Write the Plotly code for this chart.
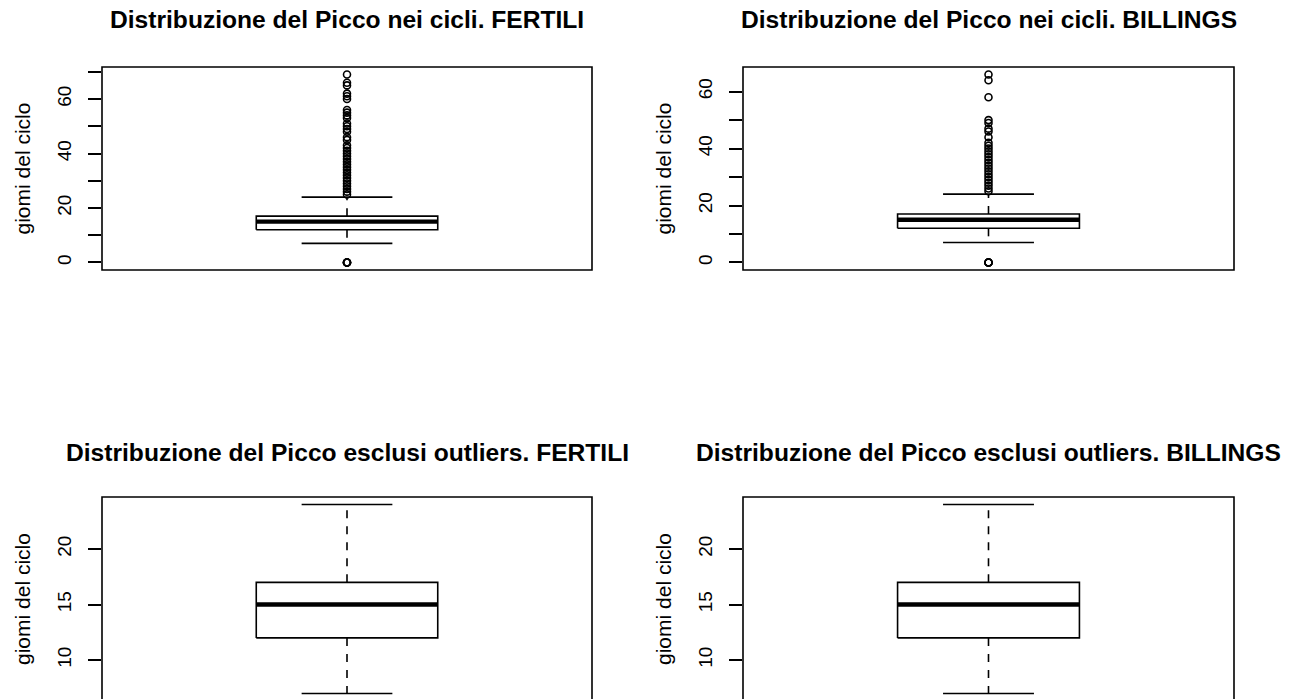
import plotly.graph_objects as go

# Summary statistics (days of the cycle) for each boxplot
q1_fertili, med_fertili, q3_fertili = 12, 15, 17
lo_fertili, hi_fertili = 7, 24
q1_billings, med_billings, q3_billings = 12, 15, 17
lo_billings, hi_billings = 7, 24

# Outliers beyond the whiskers
out_fertili = [0, 0, 0, 0, 0,
               25, 26, 27, 28, 29, 30, 31, 32, 33, 34, 35, 36, 37, 38, 39, 40, 41,
               42, 43, 45, 46, 48, 49, 50, 51, 53, 54, 55, 56, 60, 61, 62, 65, 66, 69]
out_billings = [0, 0, 0, 0, 0,
                25, 26, 27, 28, 29, 30, 31, 32, 33, 34, 35, 36, 37, 38, 39, 40, 41,
                42, 44, 46, 47, 49, 50, 58, 64, 66]

titles = [
    "Distribuzione del Picco nei cicli. FERTILI",
    "Distribuzione del Picco nei cicli. BILLINGS",
    "Distribuzione del Picco esclusi outliers. FERTILI",
    "Distribuzione del Picco esclusi outliers. BILLINGS",
]
y_label = "giomi del ciclo"

W, H = 1302, 699
FONT = "Liberation Sans, Arial, sans-serif"

# plot areas in pixels: (left, right, top, bottom, title centre)
areas = [
    (102, 592, 67, 270, 20),
    (743, 1234, 67, 270, 20),
    (102, 592, 497, 701, 452),
    (743, 1234, 497, 701, 452),
]


def r_range(lo, hi):
    pad = 0.04 * (hi - lo)
    return [lo - pad, hi + pad]


panels = [
    dict(q1=q1_fertili, med=med_fertili, q3=q3_fertili, lo=lo_fertili, hi=hi_fertili,
         out=out_fertili, ticks=list(range(0, 80, 10)), labels=[0, 20, 40, 60]),
    dict(q1=q1_billings, med=med_billings, q3=q3_billings, lo=lo_billings, hi=hi_billings,
         out=out_billings, ticks=list(range(0, 80, 10)), labels=[0, 20, 40, 60]),
    dict(q1=q1_fertili, med=med_fertili, q3=q3_fertili, lo=lo_fertili, hi=hi_fertili,
         out=[], ticks=[5, 10, 15, 20, 25], labels=[5, 10, 15, 20, 25]),
    dict(q1=q1_billings, med=med_billings, q3=q3_billings, lo=lo_billings, hi=hi_billings,
         out=[], ticks=[5, 10, 15, 20, 25], labels=[5, 10, 15, 20, 25]),
]

fig = go.Figure()
layout = dict(
    width=W, height=H, margin=dict(l=0, r=0, t=0, b=0),
    paper_bgcolor="white", plot_bgcolor="white", showlegend=False,
    font=dict(family=FONT, color="black"),
)
shapes, annotations = [], []

BOX_HALF, STAPLE_HALF = 0.2, 0.1
LW = 1.6

for i, (p, (l, r, t, b, ty)) in enumerate(zip(panels, areas)):
    n = "" if i == 0 else str(i + 1)
    xa, ya = "x" + n, "y" + n
    values = [p["lo"], p["hi"]] + p["out"]
    yr = r_range(min(values), max(values))
    # clip the plot area at the page bottom, keeping the same scale
    b_vis = min(b, H)
    scale = (yr[1] - yr[0]) / (b - t)
    yr_vis = [yr[0] + (b - b_vis) * scale, yr[1]]

    xd = [l / W, r / W]
    yd = [1 - b_vis / H, 1 - t / H]
    layout["xaxis" + n] = dict(domain=xd, range=[0.46, 1.54], showgrid=False, zeroline=False,
                               showticklabels=False, ticks="", showline=False, fixedrange=True,
                               anchor=ya)
    layout["yaxis" + n] = dict(domain=yd, range=yr_vis, showgrid=False, zeroline=False,
                               tickmode="array", tickvals=p["ticks"],
                               ticktext=[str(v) if v in p["labels"] else "" for v in p["ticks"]],
                               ticks="outside", ticklen=13, tickwidth=LW, tickcolor="black",
                               tickangle=-90, ticklabelstandoff=9,
                               tickfont=dict(size=19, family=FONT, color="black"),
                               showline=False, fixedrange=True, anchor=xa)

    line = dict(color="black", width=LW)
    # box
    fig.add_trace(go.Scatter(x=[1 - BOX_HALF, 1 + BOX_HALF, 1 + BOX_HALF, 1 - BOX_HALF, 1 - BOX_HALF],
                             y=[p["q1"], p["q1"], p["q3"], p["q3"], p["q1"]],
                             mode="lines", line=line, xaxis=xa, yaxis=ya, hoverinfo="skip"))
    # median
    fig.add_trace(go.Scatter(x=[1 - BOX_HALF, 1 + BOX_HALF], y=[p["med"], p["med"]],
                             mode="lines", line=dict(color="black", width=4.4),
                             xaxis=xa, yaxis=ya, hoverinfo="skip"))
    # dashed whiskers
    for y0, y1 in ((p["q3"], p["hi"]), (p["q1"], p["lo"])):
        fig.add_trace(go.Scatter(x=[1, 1], y=[y0, y1], mode="lines",
                                 line=dict(color="black", width=LW, dash="8px,8px"),
                                 xaxis=xa, yaxis=ya, hoverinfo="skip"))
    # staples
    for yv in (p["hi"], p["lo"]):
        fig.add_trace(go.Scatter(x=[1 - STAPLE_HALF, 1 + STAPLE_HALF], y=[yv, yv], mode="lines",
                                 line=line, xaxis=xa, yaxis=ya, hoverinfo="skip"))
    # outliers
    if p["out"]:
        fig.add_trace(go.Scatter(x=[1] * len(p["out"]), y=p["out"], mode="markers",
                                 marker=dict(symbol="circle-open", size=7, color="black",
                                             line=dict(width=1.6)),
                                 xaxis=xa, yaxis=ya, hoverinfo="skip", cliponaxis=False))

    # frame around the plotting region
    shapes.append(dict(type="rect", xref=xa + " domain", yref=ya + " domain",
                       x0=0, x1=1, y0=0 if b <= H else -0.05, y1=1,
                       line=dict(color="black", width=LW), layer="above"))

    # panel title
    annotations.append(dict(text="<b>" + titles[i] + "</b>", xref="paper", yref="paper",
                            x=(l + r) / 2 / W, y=1 - ty / H, xanchor="center",
                            yanchor="middle", showarrow=False,
                            font=dict(size=24.6, family=FONT, color="black")))
    # y axis title
    annotations.append(dict(text=y_label, xref="paper", yref="paper",
                            x=(l - 80) / W, y=1 - ((t + b) / 2) / H, xanchor="center",
                            yanchor="middle", textangle=-90, showarrow=False,
                            font=dict(size=21, family=FONT, color="black")))

layout["shapes"] = shapes
layout["annotations"] = annotations
fig.update_layout(**layout)
fig.write_html("out.html")
